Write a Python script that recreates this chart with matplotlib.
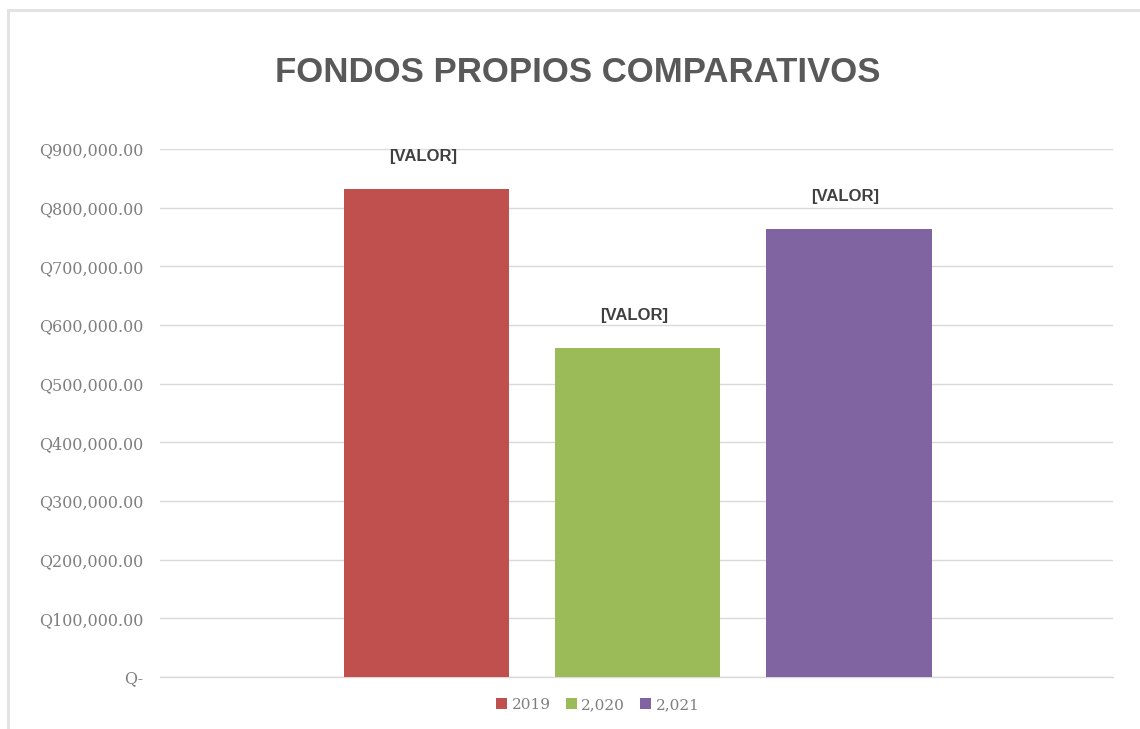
import matplotlib
matplotlib.use("Agg")
import matplotlib.pyplot as plt
from matplotlib.patches import Rectangle, Patch
from matplotlib.ticker import FuncFormatter

series = ["2019", "2,020", "2,021"]
values = [832000, 561000, 764000]
colors = ["#C0504D", "#9BBB59", "#8064A2"]
labels = ["[VALOR]", "[VALOR]", "[VALOR]"]
yticks = [0, 100000, 200000, 300000, 400000, 500000, 600000, 700000, 800000, 900000]

W, H = 1140, 729
fig = plt.figure(figsize=(W / 100, H / 100), dpi=100)
fig.patch.set_facecolor("white")

# outer border of chart area
fig.patches.append(Rectangle((8 / W, -0.1), 1.2, 1 - 10 / H + 0.1, transform=fig.transFigure,
                             fill=False, edgecolor="#E3E3E3", linewidth=2.2))

ax = fig.add_axes([160 / W, 1 - 677 / H, (1113 - 160) / W, (677 - 149) / H])
ax.set_ylim(0, 900000)
ax.set_xlim(-2.265, 2.251)

width = 0.782
for i, (s, v, c, lab) in enumerate(zip(series, values, colors, labels)):
    x = i - 1
    ax.bar(x, v, width=width, color=c, zorder=3, label=s)
    ax.annotate(lab, (x, v), xytext=(-3, 18), textcoords="offset points",
                ha="center", va="bottom", fontsize=12, fontweight="bold", color="#404040",
                family="Liberation Sans")

ax.set_yticks(yticks)
ax.yaxis.set_major_formatter(FuncFormatter(lambda v, p: "Q-" if v == 0 else "Q{:,.2f}".format(v)))
ax.tick_params(axis="y", length=0, pad=12, labelsize=11.5, labelcolor="#7F7F7F")
ax.tick_params(axis="x", length=0, labelbottom=False)
for lbl in ax.get_yticklabels():
    lbl.set_family("DejaVu Serif")
ax.grid(axis="y", color="#D9D9D9", linewidth=1, zorder=0)
ax.axhline(0, color="#D9D9D9", linewidth=1, zorder=1, clip_on=False)
for sp in ax.spines.values():
    sp.set_visible(False)

fig.text(578 / W, 1 - 73 / H, "FONDOS PROPIOS COMPARATIVOS", ha="center", va="center",
         fontsize=25, fontweight="bold", color="#595959", family="Liberation Sans")

handles = [Patch(facecolor=c, label=s) for s, c in zip(series, colors)]
leg = fig.legend(handles=handles, loc="center", bbox_to_anchor=(598 / W, 1 - 705 / H), ncol=3,
                 frameon=False, handlelength=0.7, handleheight=0.7, handletextpad=0.3,
                 columnspacing=1.0, prop={"family": "DejaVu Serif", "size": 11})
for t in leg.get_texts():
    t.set_color("#7F7F7F")

fig.savefig("out.png", dpi=100, facecolor="white")
